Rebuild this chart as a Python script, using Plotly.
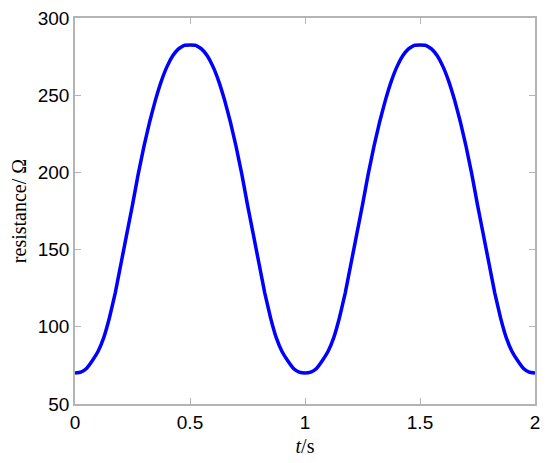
import plotly.graph_objects as go

# time samples (s) and resistance (Ohm)
t = [
    0.0, 0.025, 0.05, 0.075, 0.1, 0.125, 0.15, 0.175, 0.2, 0.225,
    0.25, 0.275, 0.3, 0.325, 0.35, 0.375, 0.4, 0.425, 0.45, 0.475,
    0.5, 0.525, 0.55, 0.575, 0.6, 0.625, 0.65, 0.675, 0.7, 0.725,
    0.75, 0.775, 0.8, 0.825, 0.85, 0.875, 0.9, 0.925, 0.95, 0.975,
    1.0, 1.025, 1.05, 1.075, 1.1, 1.125, 1.15, 1.175, 1.2, 1.225,
    1.25, 1.275, 1.3, 1.325, 1.35, 1.375, 1.4, 1.425, 1.45, 1.475,
    1.5, 1.525, 1.55, 1.575, 1.6, 1.625, 1.65, 1.675, 1.7, 1.725,
    1.75, 1.775, 1.8, 1.825, 1.85, 1.875, 1.9, 1.925, 1.95, 1.975,
    2.0,
]
resistance = [
    70, 70.6, 73, 78, 84, 93, 106, 122, 141, 160,
    179, 199, 217, 233, 247, 259, 268.5, 275.5, 280, 282.3,
    282.5, 282.3, 280, 275.5, 268.5, 259, 247, 233, 217, 199,
    179, 160, 141, 122, 106, 93, 84, 78, 73, 70.6,
    70, 70.6, 73, 78, 84, 93, 106, 122, 141, 160,
    179, 199, 217, 233, 247, 259, 268.5, 275.5, 280, 282.3,
    282.5, 282.3, 280, 275.5, 268.5, 259, 247, 233, 217, 199,
    179, 160, 141, 122, 106, 93, 84, 78, 73, 70.6,
    70,
]
x_ticks = [0, 0.5, 1, 1.5, 2]
x_tick_text = ["0", "0.5", "1", "1.5", "2"]
y_ticks = [50, 100, 150, 200, 250, 300]

AXIS_COLOR = "#b4b4b4"

fig = go.Figure(go.Scatter(
    x=t, y=resistance,
    mode="lines",
    line=dict(color="#0000ff", width=3.5, shape="spline", smoothing=0.3),
    showlegend=False,
))

axis_common = dict(
    showgrid=False, zeroline=False, automargin=False,
    showline=True, linecolor=AXIS_COLOR, linewidth=1.5, mirror="ticks",
    ticks="inside", ticklen=6, tickcolor=AXIS_COLOR, tickwidth=1,
    tickfont=dict(family="Liberation Sans, Arial", size=19, color="black"),
    ticklabeloverflow="allow",
)

# the page body adds a small margin, so the figure is a little smaller
fig.update_layout(
    width=542, height=456,
    margin=dict(l=67, r=15, t=10, b=60),
    paper_bgcolor="white", plot_bgcolor="white",
    xaxis=dict(
        range=[0, 2], tickvals=x_ticks, ticktext=x_tick_text,
        title=dict(text="<i>t</i>/s", standoff=7,
                   font=dict(family="Liberation Serif, Times New Roman", size=20, color="black")),
        **axis_common,
    ),
    yaxis=dict(
        range=[50, 300], tickvals=y_ticks,
        title=dict(text="resistance/ Ω", standoff=8,
                   font=dict(family="Liberation Serif, Times New Roman", size=20, color="black")),
        **axis_common,
    ),
)

fig.write_html("out.html")
